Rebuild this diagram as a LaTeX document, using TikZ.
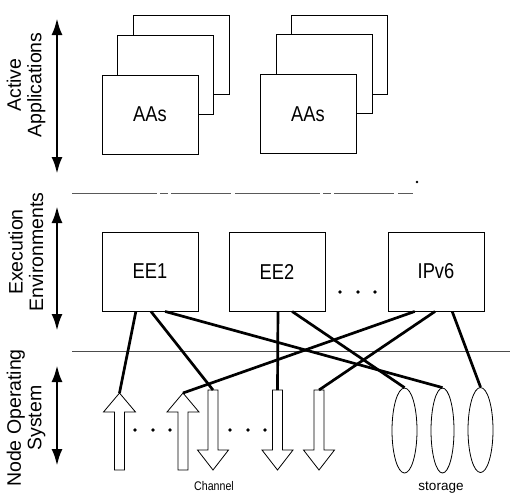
\documentclass[tikz,border=0pt]{standalone}
\usepackage{fontspec}
\setmainfont{Liberation Sans}
\newfontfamily\narrowfont[FakeStretch=0.85]{Liberation Sans}
\usetikzlibrary{arrows.meta,shapes.geometric,calc}

\tikzset{
  layerbox/.style={draw, line width=0.9pt, fill=white, inner sep=0pt,
    minimum width=96pt, minimum height=79pt,
    font=\narrowfont\fontsize{21.5}{21.5}\selectfont},
  sidelabel/.style={rotate=90, align=center, inner sep=0pt,
    font=\fontsize{19.5}{20.5}\selectfont},
  sidearrow/.style={line width=2.8pt, {Latex[length=17pt,width=11pt]}-{Latex[length=17pt,width=11pt]}},
  wire/.style={line width=2.7pt},
  hollow/.style={draw, line width=0.8pt, fill=white},
  disk/.style={ellipse, draw, line width=0.8pt, inner sep=0pt,
    minimum width=25pt, minimum height=85pt},
  dot/.style={circle, fill=black, inner sep=0pt, minimum size=3.8pt},
  holup/.pic={
    \draw[hollow] (0,0) -- (16,19) -- (5,19) -- (5,77) -- (-5,77) -- (-5,19) -- (-16,19) -- cycle;
    \coordinate (-tip) at (0,0);
  },
  holdown/.pic={
    \draw[hollow] (-5,0) -- (5,0) -- (5,60) -- (15.5,60) -- (0,80) -- (-15.5,60) -- (-5,60) -- cycle;
    \coordinate (-top) at (0,0);
  }
}

\begin{document}
\begin{tikzpicture}[x=1pt, y=-1pt]
\useasboundingbox (0,0) rectangle (510,496);

% layer titles with their double arrows
\node[sidelabel] (lblAA) at (26,85) {Active\\Applications};
\node[sidelabel] (lblEE) at (26,252) {Execution\\Environments};
\node[sidelabel] (lblOS) at (26,418) {Node Operating\\System};
\coordinate (aaTop) at (57,18);  \coordinate (aaBot) at (57,174);
\coordinate (eeTop) at (57,206); \coordinate (eeBot) at (57,331);
\coordinate (osTop) at (57,365); \coordinate (osBot) at (57,466);
\draw[sidearrow] (aaTop) -- (aaBot);
\draw[sidearrow] (eeTop) -- (eeBot);
\draw[sidearrow] (osTop) -- (osBot);

% active application stacks
\node[layerbox] (aaL3) at (181,55) {};
\node[layerbox] (aaL2) at (165,74.5) {};
\node[layerbox] (aaL1) at (150,114.5) {AAs};
\node[layerbox] (aaR3) at (339.5,54.5) {};
\node[layerbox] (aaR2) at (324,73.5) {};
\node[layerbox] (aaR1) at (308,114) {AAs};

% separators between layers
\coordinate (sepAL) at (72,193); \coordinate (sepAR) at (413,193);
\draw[black!65, line width=0.8pt, dash pattern=on 85pt off 3pt on 8pt off 3pt on 60pt off 4pt] (sepAL) -- (sepAR);
\node[circle, fill=black, inner sep=0pt, minimum size=2.6pt] (stray) at (417,182) {};
\coordinate (sepBL) at (72,351); \coordinate (sepBR) at (510,351);
\draw[black!70, line width=0.7pt] (sepBL) -- (sepBR);

% execution environments
\node[layerbox] (ee1) at (150,271.5) {EE1};
\node[layerbox] (ee2) at (277,271.5) {EE2};
\node[layerbox] (ipv6) at (436,271.5) {IPv6};
\node[dot] (d1) at (340,292) {};
\node[dot] (d2) at (358,292) {};
\node[dot] (d3) at (375,292) {};

% channels and storage
\pic (up1) at (119.5,393) {holup};
\pic (up2) at (183,393) {holup};
\pic (dn1) at (213,390) {holdown};
\pic (dn2) at (277.5,390) {holdown};
\pic (dn3) at (319,390) {holdown};
\node[dot] (c1) at (135,430) {};
\node[dot] (c2) at (153,430) {};
\node[dot] (c3) at (170,430) {};
\node[dot] (c4) at (230,430) {};
\node[dot] (c5) at (248,430) {};
\node[dot] (c6) at (265,430) {};
\node[disk] (st1) at (404.5,430.5) {};
\node[disk, minimum width=23pt] (st2) at (442.5,430.5) {};
\node[disk] (st3) at (480.5,430) {};

\node[font=\narrowfont\fontsize{12.5}{13}\selectfont, inner sep=0pt, anchor=base] (chan) at (214,490) {Channel};
\node[font=\fontsize{13.5}{14}\selectfont, inner sep=0pt, anchor=base] (stor) at (441,490) {storage};

% bindings from environments to node resources
\draw[wire] ($(ee1.south west)!0.354!(ee1.south east)$) -- (up1-tip);
\draw[wire] ($(ee1.south west)!0.51!(ee1.south east)$) -- (dn1-top);
\draw[wire] ($(ee1.south west)!0.656!(ee1.south east)$) -- (st2.north);
\draw[wire] ($(ee2.south west)!0.51!(ee2.south east)$) -- (dn2-top);
\draw[wire] ($(ee2.south west)!0.656!(ee2.south east)$) -- (st1.north);
\draw[wire] ($(ipv6.south west)!0.28!(ipv6.south east)$) -- (up2-tip);
\draw[wire] ($(ipv6.south west)!0.49!(ipv6.south east)$) -- (dn3-top);
\draw[wire] ($(ipv6.south west)!0.667!(ipv6.south east)$) -- (st3.north);
\end{tikzpicture}
\end{document}
